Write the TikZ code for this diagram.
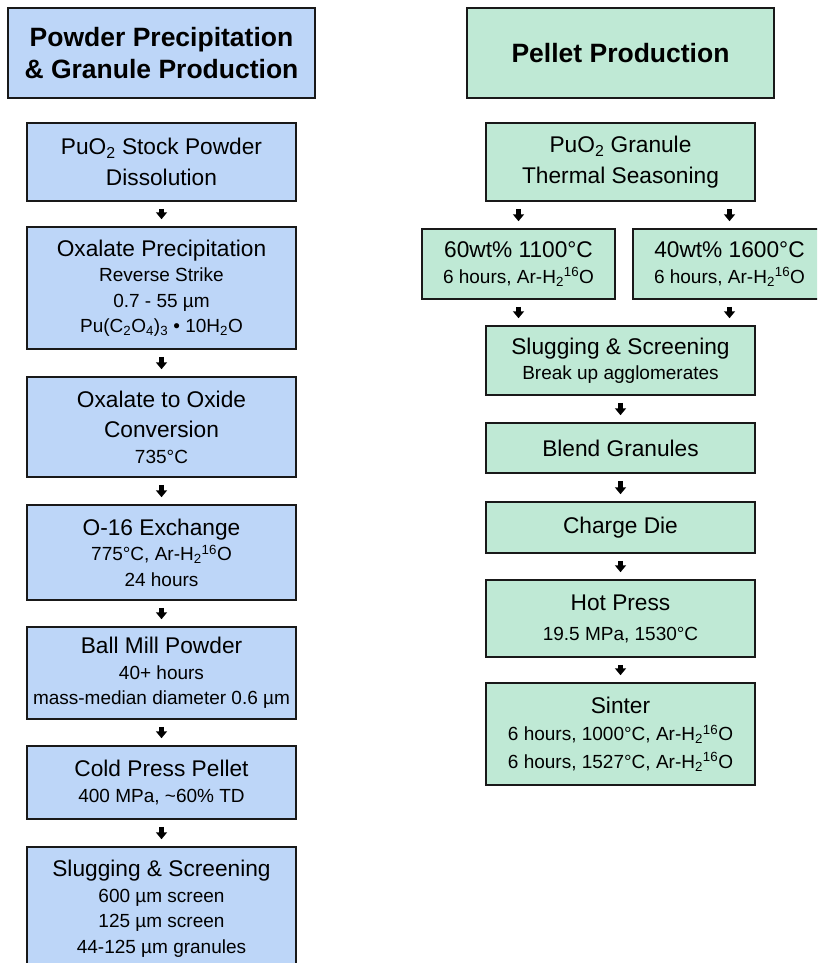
\documentclass[tikz,border=0pt]{standalone}
\usepackage{fontspec}
\setmainfont{Liberation Sans}
\usetikzlibrary{arrows.meta}

\definecolor{powderblue}{RGB}{189,214,248}
\definecolor{pelletgreen}{RGB}{191,233,213}
\newcommand{\sm}{\fontsize{19}{25.5}\selectfont}
\newcommand{\arho}{Ar-H\textsubscript{2}\textsuperscript{16}O}

\begin{document}
\begin{tikzpicture}[x=1pt, y=-1pt,
    box/.style={draw=black!90, line width=2.5pt, inner sep=0pt, align=center,
      font=\fontsize{22.7}{25.5}\selectfont},
    bluebox/.style={box, fill=powderblue, minimum width=269pt},
    greenbox/.style={box, fill=pelletgreen, minimum width=269pt},
    header/.style={minimum width=307pt, minimum height=90pt,
      font=\fontsize{26.5}{32}\selectfont\bfseries},
    flow/.style={line width=4.5pt, -{Triangle[width=11pt,length=7pt]},
      shorten <=6.5pt, shorten >=6.5pt}]
	\clip (0,0) rectangle (817,963);

	% powder side
	\node[bluebox, header] (hdrL) at (161.5,53) {Powder Precipitation\\\& Granule Production};
	\node[bluebox, minimum height=78pt] (dissolve) at (161.5,162) {PuO\textsubscript{2} Stock Powder\\[5pt]Dissolution};
	\node[bluebox, minimum height=122pt] (precip) at (161.5,288) {Oxalate Precipitation\\\sm Reverse Strike\\\sm 0.7 - 55 µm\\\sm Pu(C\textsubscript{2}O\textsubscript{4})\textsubscript{3} • 10H\textsubscript{2}O};
	\node[bluebox, minimum height=100pt] (convert) at (161.5,427) {Oxalate to Oxide\\[5pt]Conversion\\\sm 735°C};
	\node[bluebox, minimum height=95pt] (exchange) at (161.5,552.5) {O-16 Exchange\\\sm 775°C, \arho\\\sm 24 hours};
	\node[bluebox, minimum height=92pt] (mill) at (161.5,673) {Ball Mill Powder\\\sm 40+ hours\\\sm mass-median diameter 0.6 µm};
	\node[bluebox, minimum height=73pt] (coldpress) at (161.5,782.5) {Cold Press Pellet\\\sm 400 MPa, \textasciitilde60\% TD};
	\node[bluebox, minimum height=123pt] (slugA) at (161.5,908.5) {Slugging \& Screening\\\sm 600 µm screen\\\sm 125 µm screen\\\sm 44-125 µm granules};

	\draw[flow] (dissolve) -- (precip);
	\draw[flow] (precip) -- (convert);
	\draw[flow] (convert) -- (exchange);
	\draw[flow] (exchange) -- (mill);
	\draw[flow] (mill) -- (coldpress);
	\draw[flow] (coldpress) -- (slugA);

	% pellet side
	\node[greenbox, header] (hdrR) at (620.5,53) {Pellet Production};
	\node[greenbox, minimum height=78pt] (season) at (620.5,162) {PuO\textsubscript{2} Granule\\[5pt]Thermal Seasoning};
	\node[greenbox, minimum width=193pt, minimum height=70pt] (wtsixty) at (518.5,264) {60wt\% 1100°C\\\sm 6 hours, \arho};
	\node[greenbox, minimum width=193pt, minimum height=70pt] (wtforty) at (729.5,264) {40wt\% 1600°C\\\sm 6 hours, \arho};
	\node[greenbox, minimum height=69pt] (slugB) at (620.5,360.5) {Slugging \& Screening\\\sm Break up agglomerates};
	\node[greenbox, minimum height=50pt] (blend) at (620.5,448) {Blend Granules};
	\node[greenbox, minimum height=51pt] (charge) at (620.5,527.5) {Charge Die};
	\node[greenbox, minimum height=77pt] (hotpress) at (620.5,618.5) {Hot Press\\[4.5pt]\sm 19.5 MPa, 1530°C};
	\node[greenbox, minimum height=102pt] (sinter) at (620.5,734) {Sinter\\[2pt]\sm 6 hours, 1000°C, \arho\\[2pt]\sm 6 hours, 1527°C, \arho};

	\draw[flow] (season.south -| wtsixty) -- (wtsixty);
	\draw[flow] (season.south -| wtforty) -- (wtforty);
	\draw[flow] (wtsixty) -- (slugB.north -| wtsixty);
	\draw[flow] (wtforty) -- (slugB.north -| wtforty);
	\draw[flow] (slugB) -- (blend);
	\draw[flow] (blend) -- (charge);
	\draw[flow] (charge) -- (hotpress);
	\draw[flow] (hotpress) -- (sinter);
\end{tikzpicture}
\end{document}
